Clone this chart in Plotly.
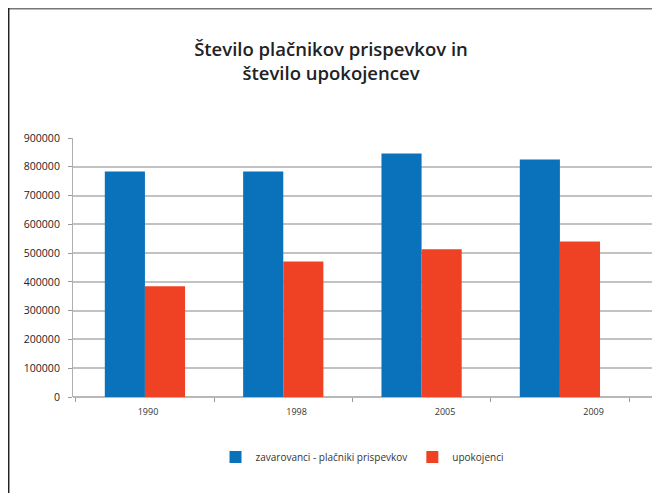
import plotly.graph_objects as go

years = ["1990", "1998", "2005", "2009"]
zavarovanci = [784000, 784000, 846000, 825000]
upokojenci = [385000, 471000, 513000, 540000]
series_names = ["zavarovanci - plačniki prispevkov", "upokojenci"]
y_ticks = [0, 100000, 200000, 300000, 400000, 500000, 600000, 700000, 800000, 900000]

# page is rendered with an 8px body margin, so the figure is offset by O
O = 8
W, H = 660 - O, 493 - O
L, R, T, B = 65, 7, 130, 96
PW, PH = W - L - R, H - T - B

def px(x):
    # page x -> paper fraction
    return (x - O - L) / PW

def py(y):
    # page y -> paper fraction
    return (H - B - (y - O)) / PH

fig = go.Figure()
fig.add_trace(go.Bar(x=years, y=zavarovanci, name=series_names[0],
                     marker=dict(color="#0a72bb", line=dict(width=0))))
fig.add_trace(go.Bar(x=years, y=upokojenci, name=series_names[1],
                     marker=dict(color="#ef4123", line=dict(width=0))))
# helper trace to carry the label axis
fig.add_trace(go.Scatter(x=years, y=[None] * len(years), xaxis="x2", mode="markers",
                         showlegend=False, hoverinfo="skip"))

font_family = "Open Sans, Noto Sans, sans-serif"

fig.update_layout(
    width=W, height=H,
    margin=dict(l=L, r=R, t=T, b=B, autoexpand=False),
    paper_bgcolor="white", plot_bgcolor="white",
    barmode="group", bargap=0.42, bargroupgap=0,
    title=dict(text="Število plačnikov prispevkov in<br>število upokojencev",
               xref="container", x=(331 - O) / W, xanchor="center",
               yref="container", y=1 - 48 / H, yanchor="middle",
               font=dict(family=font_family, size=18.5, color="#222222", weight=600)),
    xaxis=dict(type="category", categoryorder="array", categoryarray=years,
               range=[-0.52, 3.673], showticklabels=False, showgrid=False,
               showline=False, zeroline=False, ticks="outside", tickson="boundaries",
               ticklen=4, tickcolor="#999999", tickwidth=1),
    xaxis2=dict(type="category", categoryorder="array", categoryarray=years,
                overlaying="x", anchor="y", side="bottom",
                range=[-0.505, 3.40], showgrid=False, showline=False, zeroline=False,
                ticks="", tickfont=dict(family=font_family, size=9, color="#333333"),
                ticklabelstandoff=8),
    yaxis=dict(range=[0, 900000], tickvals=y_ticks, ticktext=[str(v) for v in y_ticks],
               showgrid=True, gridcolor="#c2c2c2", gridwidth=1.6,
               showline=True, linecolor="#b0b0b0", linewidth=1,
               zeroline=True, zerolinecolor="#b8b8b8", zerolinewidth=1.6,
               ticks="outside", ticklen=4, tickcolor="#999999",
               tickfont=dict(family=font_family, size=10.5, color="#222222"),
               ticklabelstandoff=6),
    legend=dict(orientation="h", x=px(362), xanchor="center", y=py(457), yanchor="middle",
                font=dict(family=font_family, size=10, color="#333333"),
                itemwidth=30, traceorder="normal"),
    shapes=[
        dict(type="line", xref="paper", yref="paper", x0=px(7), x1=px(660), y0=py(8.7), y1=py(8.7),
             line=dict(color="#777777", width=1.5)),
        dict(type="line", xref="paper", yref="paper", x0=px(8.7), x1=px(8.7), y0=py(8), y1=py(493),
             line=dict(color="#222222", width=1.5)),
    ],
)

fig.write_html("out.html")
